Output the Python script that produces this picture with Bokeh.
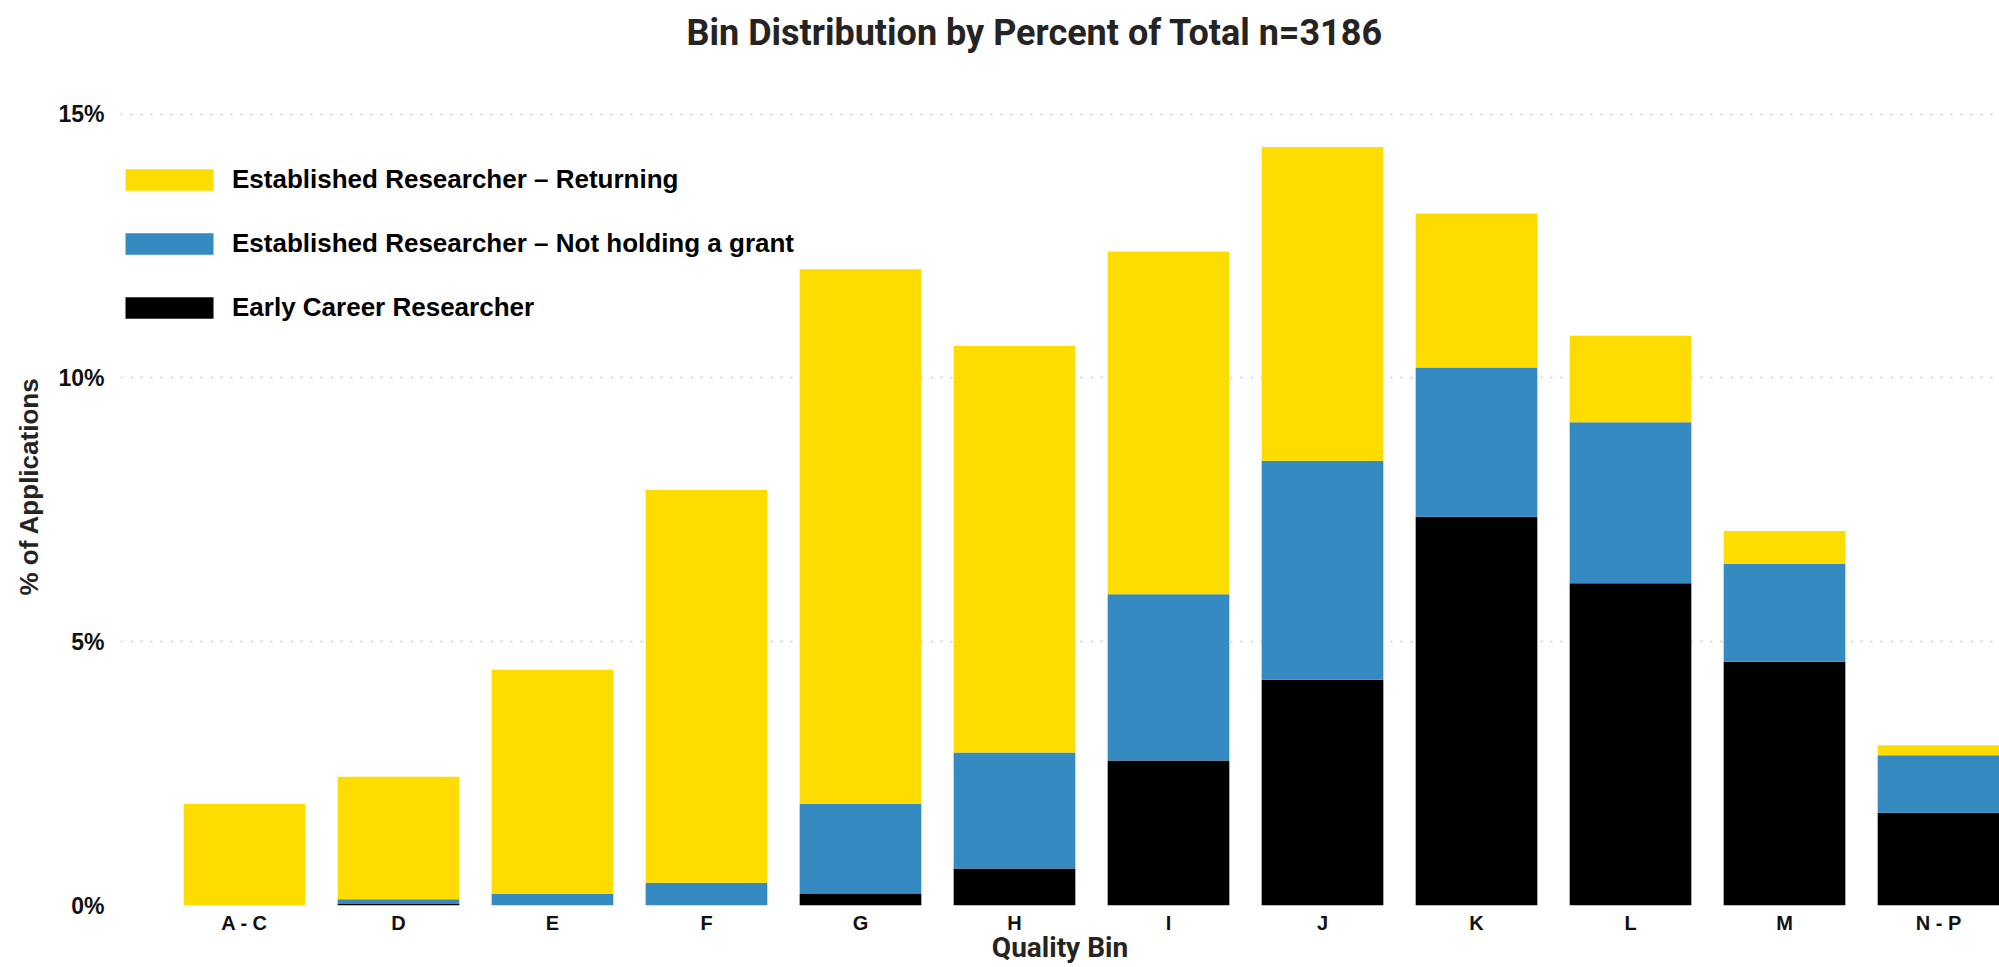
from bokeh.plotting import figure
from bokeh.models import ColumnDataSource, Range1d, FixedTicker, Legend, LegendItem, Title
from bokeh.embed import file_html
from bokeh.resources import INLINE

# ---- data ----
bins = ["A - C", "D", "E", "F", "G", "H", "I", "J", "K", "L", "M", "N - P"]
early_career = [0.00, 0.03, 0.00, 0.00, 0.22, 0.70, 2.75, 4.28, 7.37, 6.11, 4.62, 1.76]
not_holding = [0.00, 0.09, 0.22, 0.43, 1.71, 2.20, 3.15, 4.15, 2.83, 3.05, 1.86, 1.09]
returning = [1.93, 2.32, 4.25, 7.45, 10.13, 7.71, 6.50, 5.95, 2.92, 1.64, 0.62, 0.19]
series_names = ["Early Career Researcher",
                "Established Researcher \u2013 Not holding a grant",
                "Established Researcher \u2013 Returning"]
series_colors = ["#000000", "#358BC1", "#FEDC00"]
y_ticks = [0, 5, 10, 15]
y_tick_labels = ["0%", "5%", "10%", "15%"]
title_text = "Bin Distribution by Percent of Total n=3186"
x_title = "Quality Bin"
y_title = "% of Applications"

idx = list(range(len(bins)))
source = ColumnDataSource(dict(x=idx, early=early_career, nothold=not_holding, ret=returning))

p = figure(width=1999, height=967, output_backend="svg", toolbar_location=None,
           x_range=Range1d(-0.805, 11.396), y_range=Range1d(0, 15.886),
           min_border_left=120, min_border_right=0, min_border_top=67, min_border_bottom=62)
p.title = Title(text=title_text, align="left", offset=566, standoff=23,
                vertical_align="top",
                text_font="Roboto", text_font_style="bold", text_font_size="36px",
                text_color="#252423")

rs = p.vbar_stack(["early", "nothold", "ret"], x="x", width=0.79, source=source,
                  fill_color=series_colors, line_color=None)

items = [LegendItem(label=series_names[i], renderers=[rs[i]]) for i in (2, 1, 0)]
legend = Legend(items=items, location=(-6, 582), orientation="vertical",
                glyph_width=110, glyph_height=27, label_standoff=8, spacing=33,
                padding=0, margin=0, border_line_color=None, background_fill_alpha=0,
                label_text_font="Liberation Sans", label_text_font_style="bold",
                label_text_font_size="26px", label_text_color="#000000")
p.add_layout(legend)

p.outline_line_color = None
p.xgrid.grid_line_color = None
p.ygrid.ticker = FixedTicker(ticks=y_ticks)
p.ygrid.grid_line_color = "#c8c8c8"
p.ygrid.grid_line_dash = "2 8"
p.ygrid.grid_line_width = 1.5

p.yaxis.ticker = FixedTicker(ticks=y_ticks)
p.yaxis.major_label_overrides = {t: l for t, l in zip(y_ticks, y_tick_labels)}
p.xaxis.ticker = FixedTicker(ticks=idx)
p.xaxis.major_label_overrides = {i: b for i, b in zip(idx, bins)}

for ax in (p.xaxis, p.yaxis):
    ax.axis_line_color = None
    ax.major_tick_line_color = None
    ax.minor_tick_line_color = None
    ax.major_tick_out = 0
    ax.major_tick_in = 0
    ax.major_label_text_font = "Liberation Sans"
    ax.major_label_text_font_style = "bold"
    ax.major_label_text_color = "#111111"

p.yaxis.major_label_text_font_size = "23px"
p.yaxis.major_label_standoff = 16
p.xaxis.major_label_text_font_size = "20px"
p.xaxis.major_label_standoff = 6

p.yaxis.axis_label = y_title
p.yaxis.axis_label_text_font = "Liberation Sans"
p.yaxis.axis_label_text_font_style = "bold"
p.yaxis.axis_label_text_font_size = "26px"
p.yaxis.axis_label_text_color = "#252423"
p.yaxis.axis_label_standoff = 11

p.xaxis.axis_label = x_title
p.xaxis.axis_label_text_font = "Roboto"
p.xaxis.axis_label_text_font_style = "bold"
p.xaxis.axis_label_text_font_size = "28px"
p.xaxis.axis_label_text_color = "#252423"
p.xaxis.axis_label_standoff = -6

open("out.html", "w").write(file_html(p, INLINE))
